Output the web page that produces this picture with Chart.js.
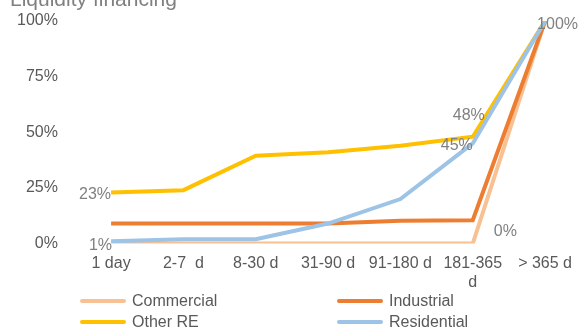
<!DOCTYPE html>
<html>
<head>
<meta charset="utf-8">
<script src="https://cdn.jsdelivr.net/npm/chart.js@4/dist/chart.umd.min.js"></script>
<style>
  html, body { margin: 0; padding: 0; background: #fff; }
  #wrap { position: relative; width: 582px; height: 331px; overflow: hidden; font-family: "Liberation Sans", Arial, sans-serif; }
  #c { position: absolute; left: 0; top: 0; }
  #title { position: absolute; left: 10px; top: -12px; font-size: 21px; color: #808080; white-space: nowrap; line-height: 21px; }
  .lg { position: absolute; font-size: 16px; color: #595959; line-height: 18px; white-space: nowrap; }
  .sw { position: absolute; width: 46px; height: 4px; border-radius: 2px; }
</style>
</head>
<body>
<div id="wrap">
  <canvas id="c" width="582" height="331"></canvas>
  <div id="title">Liquidity financing</div>
  <div id="legend"></div>
</div>
<script>
const categories = ['1 day', '2-7  d', '8-30 d', '31-90 d', '91-180 d', ['181-365', 'd'], '> 365 d'];
const seriesNames = ['Commercial', 'Industrial', 'Other RE', 'Residential'];
const commercial = [0, 0, 0, 0, 0, 0, 100];
const industrial = [9, 9, 9, 9, 10.3, 10.5, 100];
const otherRE = [23, 24, 39.5, 41, 44, 48, 100];
const residential = [1, 2, 2, 9, 20, 45, 100];
const yTicks = [0, 25, 50, 75, 100];

const colors = ['#F8C194', '#ED7D31', '#FFC000', '#9DC3E6'];
const seriesData = [commercial, industrial, otherRE, residential];

// Data labels shown: [seriesIndex, pointIndex, placement]
const shownLabels = [
  [2, 0, 'left'], [3, 0, 'leftLow'], [2, 5, 'above'], [3, 5, 'left'],
  [2, 6, 'rightTop'], [0, 5, 'rightUp']
];

const labelPlugin = {
  id: 'pointLabels',
  afterDatasetsDraw(chart) {
    const ctx = chart.ctx;
    ctx.save();
    ctx.font = '16px "Liberation Sans", Arial, sans-serif';
    ctx.fillStyle = '#808080';
    ctx.textBaseline = 'middle';
    shownLabels.forEach(([s, i, pos]) => {
      const el = chart.getDatasetMeta(s).data[i];
      const txt = Math.round(seriesData[s][i]) + '%';
      let x = el.x, y = el.y;
      if (pos === 'left') { ctx.textAlign = 'right'; x += 0; y += 2; }
      else if (pos === 'leftLow') { ctx.textAlign = 'right'; x += 1; y += 4; }
      else if (pos === 'above') { ctx.textAlign = 'center'; x -= 4; y -= 21; }
      else if (pos === 'rightTop') { ctx.textAlign = 'left'; x -= 8; y += 4; }
      else if (pos === 'rightUp') { ctx.textAlign = 'left'; x += 21; y -= 12; }
      ctx.fillText(txt, x, y);
    });
    ctx.restore();
  }
};

const datasets = seriesNames.map((n, k) => ({
  label: n,
  data: seriesData[k],
  borderColor: colors[k],
  backgroundColor: colors[k],
  borderWidth: 4,
  pointRadius: 0,
  tension: 0,
  fill: false,
  order: 4 - k
}));

new Chart(document.getElementById('c'), {
  type: 'line',
  data: { labels: categories, datasets },
  options: {
    responsive: false,
    animation: false,
    layout: { padding: { left: 0, right: 0, top: 21, bottom: 29 } },
    plugins: { legend: { display: false }, tooltip: { enabled: false }, title: { display: false } },
    scales: {
      x: {
        offset: true,
        grid: { display: false, drawTicks: false },
        border: { display: false },
        ticks: { color: '#595959', font: { size: 16, family: '"Liberation Sans", Arial, sans-serif' }, maxRotation: 0, autoSkip: false, padding: 10 }
      },
      y: {
        min: 0, max: 100,
        afterBuildTicks(axis) { axis.ticks = yTicks.map(v => ({ value: v })); },
        afterFit(axis) { axis.paddingTop = 0; },
        grid: { display: false, drawTicks: false },
        border: { display: false },
        ticks: { color: '#595959', font: { size: 16, family: '"Liberation Sans", Arial, sans-serif' }, padding: 17, callback: v => v + '%' }
      }
    }
  },
  plugins: [labelPlugin]
});

const legendPos = [[80, 301], [337, 301], [80, 322], [337, 322]];
const lg = document.getElementById('legend');
seriesNames.forEach((n, k) => {
  const [x, y] = legendPos[k];
  const sw = document.createElement('div');
  sw.className = 'sw';
  sw.style.left = x + 'px'; sw.style.top = (y - 2) + 'px'; sw.style.background = colors[k];
  lg.appendChild(sw);
  const t = document.createElement('div');
  t.className = 'lg';
  t.textContent = n;
  t.style.left = (x + 52) + 'px'; t.style.top = (y - 9) + 'px';
  lg.appendChild(t);
});
</script>
</body>
</html>
